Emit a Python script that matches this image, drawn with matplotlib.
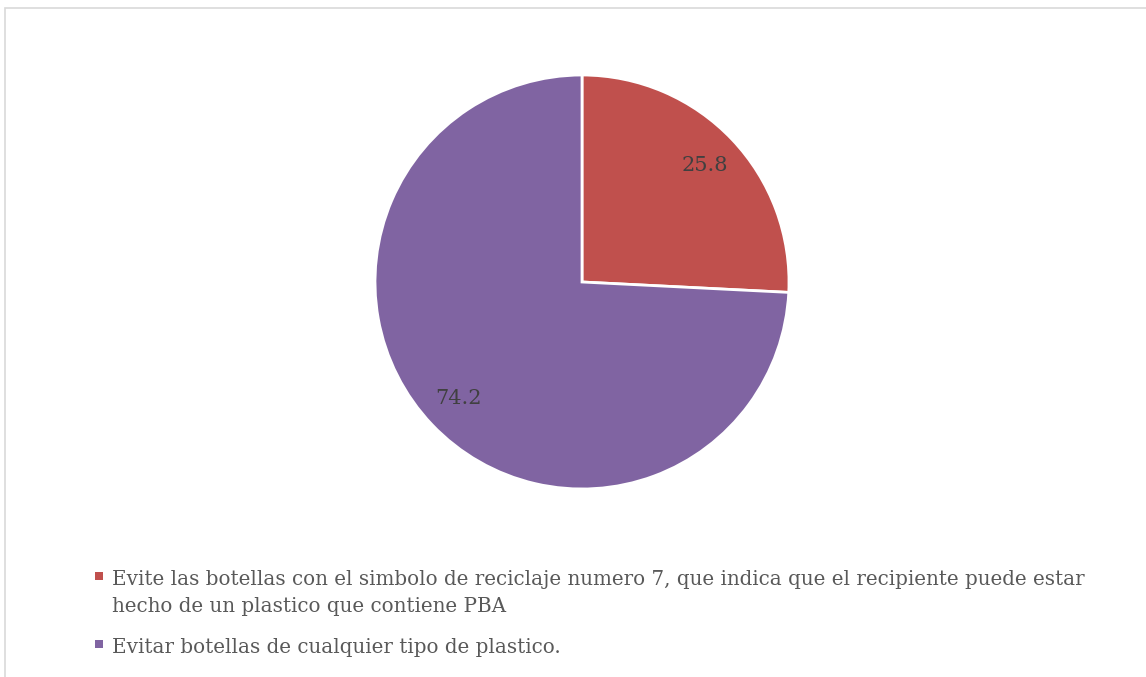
import matplotlib
matplotlib.use("Agg")
import matplotlib.pyplot as plt
from matplotlib.lines import Line2D
from matplotlib.patches import Rectangle

labels = ["Evite las botellas con el simbolo de reciclaje numero 7, que indica que el recipiente puede estar\nhecho de un plastico que contiene PBA",
          "Evitar botellas de cualquier tipo de plastico."]
values = [25.8, 74.2]
colors = ["#C0504D", "#8064A2"]

W, H = 1146, 677
fig = plt.figure(figsize=(W/100, H/100), dpi=100)
plt.rcParams['font.family'] = ['DejaVu Serif']

# border
fig.patches.append(Rectangle((5/W, -0.01), 1.2, (H-8)/H + 0.01, transform=fig.transFigure,
                             fill=False, edgecolor="#D9D9D9", linewidth=1.2))

cx, cy, r = 582, 282, 207
ax = fig.add_axes([(cx-r)/W, (H-cy-r)/H, 2*r/W, 2*r/H])
wedges, texts, autotexts = ax.pie(values, colors=colors, startangle=90, counterclock=False,
                                  autopct=lambda p: f"{p:.1f}", pctdistance=0.82,
                                  wedgeprops=dict(edgecolor="white", linewidth=2),
                                  textprops=dict(color="#404040", fontsize=15))
ax.set_xlim(-1.0, 1.0)
ax.set_ylim(-1.0, 1.0)

# legend drawn manually: square marker + text lines
entry_baselines = [585, 653]
line_step = 27
for lab, col, yb in zip(labels, colors, entry_baselines):
    fig.patches.append(Rectangle((95/W, 1-(yb-5)/H), 8/W, 8/H, transform=fig.transFigure,
                                 facecolor=col, edgecolor="none"))
    for i, line in enumerate(lab.split("\n")):
        fig.text(112/W, 1-(yb + i*line_step)/H, line, fontsize=14.3, color="#595959",
                 ha="left", va="baseline")

fig.savefig("out.png", dpi=100)
